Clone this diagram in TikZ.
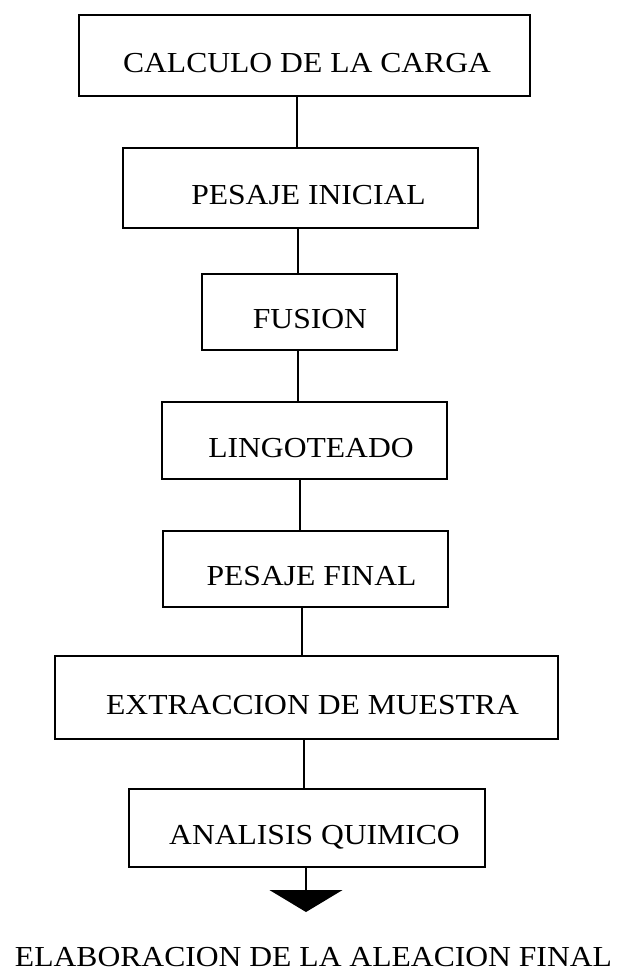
\documentclass[tikz,border=0pt]{standalone}
\usepackage{fontspec}
\setmainfont{Liberation Serif}[FakeStretch=1.09]
\usetikzlibrary{arrows.meta}
\begin{document}
\begin{tikzpicture}[x=1pt,y=-1pt,
  stepbox/.style={draw=black, line width=1.8pt, rectangle, inner sep=0pt,
    text height=33pt, text depth=0pt,
    font=\fontsize{29}{34}\selectfont},
  link/.style={draw=black, line width=1.8pt}]
\fill[white] (0,0) rectangle (620,977);
\useasboundingbox (0,0) rectangle (620,977);
\node[stepbox, minimum width=451pt, minimum height=81pt] (a1) at (304.5,55.5) {\hspace*{5pt}CALCULO DE LA CARGA};
\node[stepbox, minimum width=355pt, minimum height=80pt] (a2) at (300.5,188) {\hspace*{16pt}PESAJE INICIAL};
\node[stepbox, minimum width=195pt, minimum height=76pt] (a3) at (299.5,312) {\hspace*{21pt}FUSION};
\node[stepbox, minimum width=285pt, minimum height=77pt] (a4) at (304.5,440.5) {\hspace*{13pt}LINGOTEADO};
\node[stepbox, minimum width=285pt, minimum height=76pt] (a5) at (305.5,569) {\hspace*{12pt}PESAJE FINAL};
\node[stepbox, minimum width=503pt, minimum height=83pt] (a6) at (306.5,697.5) {\hspace*{12pt}EXTRACCION DE MUESTRA};
\node[stepbox, minimum width=356pt, minimum height=78pt] (a7) at (307,828) {\hspace*{15pt}ANALISIS QUIMICO};
\coordinate (tip) at (306,912);
\node[anchor=base, inner sep=0pt, font=\fontsize{29}{34}\selectfont] (fin) at (313.5,966) {ELABORACION DE LA ALEACION FINAL};
\draw[link] ([xshift=-7.5pt]a1.south) -- ([xshift=-3.5pt]a2.north);
\draw[link] ([xshift=-2.5pt]a2.south) -- ([xshift=-1.5pt]a3.north);
\draw[link] ([xshift=-1.5pt]a3.south) -- ([xshift=-6.5pt]a4.north);
\draw[link] ([xshift=-4.5pt]a4.south) -- ([xshift=-5.5pt]a5.north);
\draw[link] ([xshift=-3.5pt]a5.south) -- ([xshift=-4.5pt]a6.north);
\draw[link] ([xshift=-2.5pt]a6.south) -- ([xshift=-3pt]a7.north);
\draw[link, -{Triangle[width=73pt,length=22pt]}] ([xshift=-1pt]a7.south) -- (tip);
\end{tikzpicture}
\end{document}
